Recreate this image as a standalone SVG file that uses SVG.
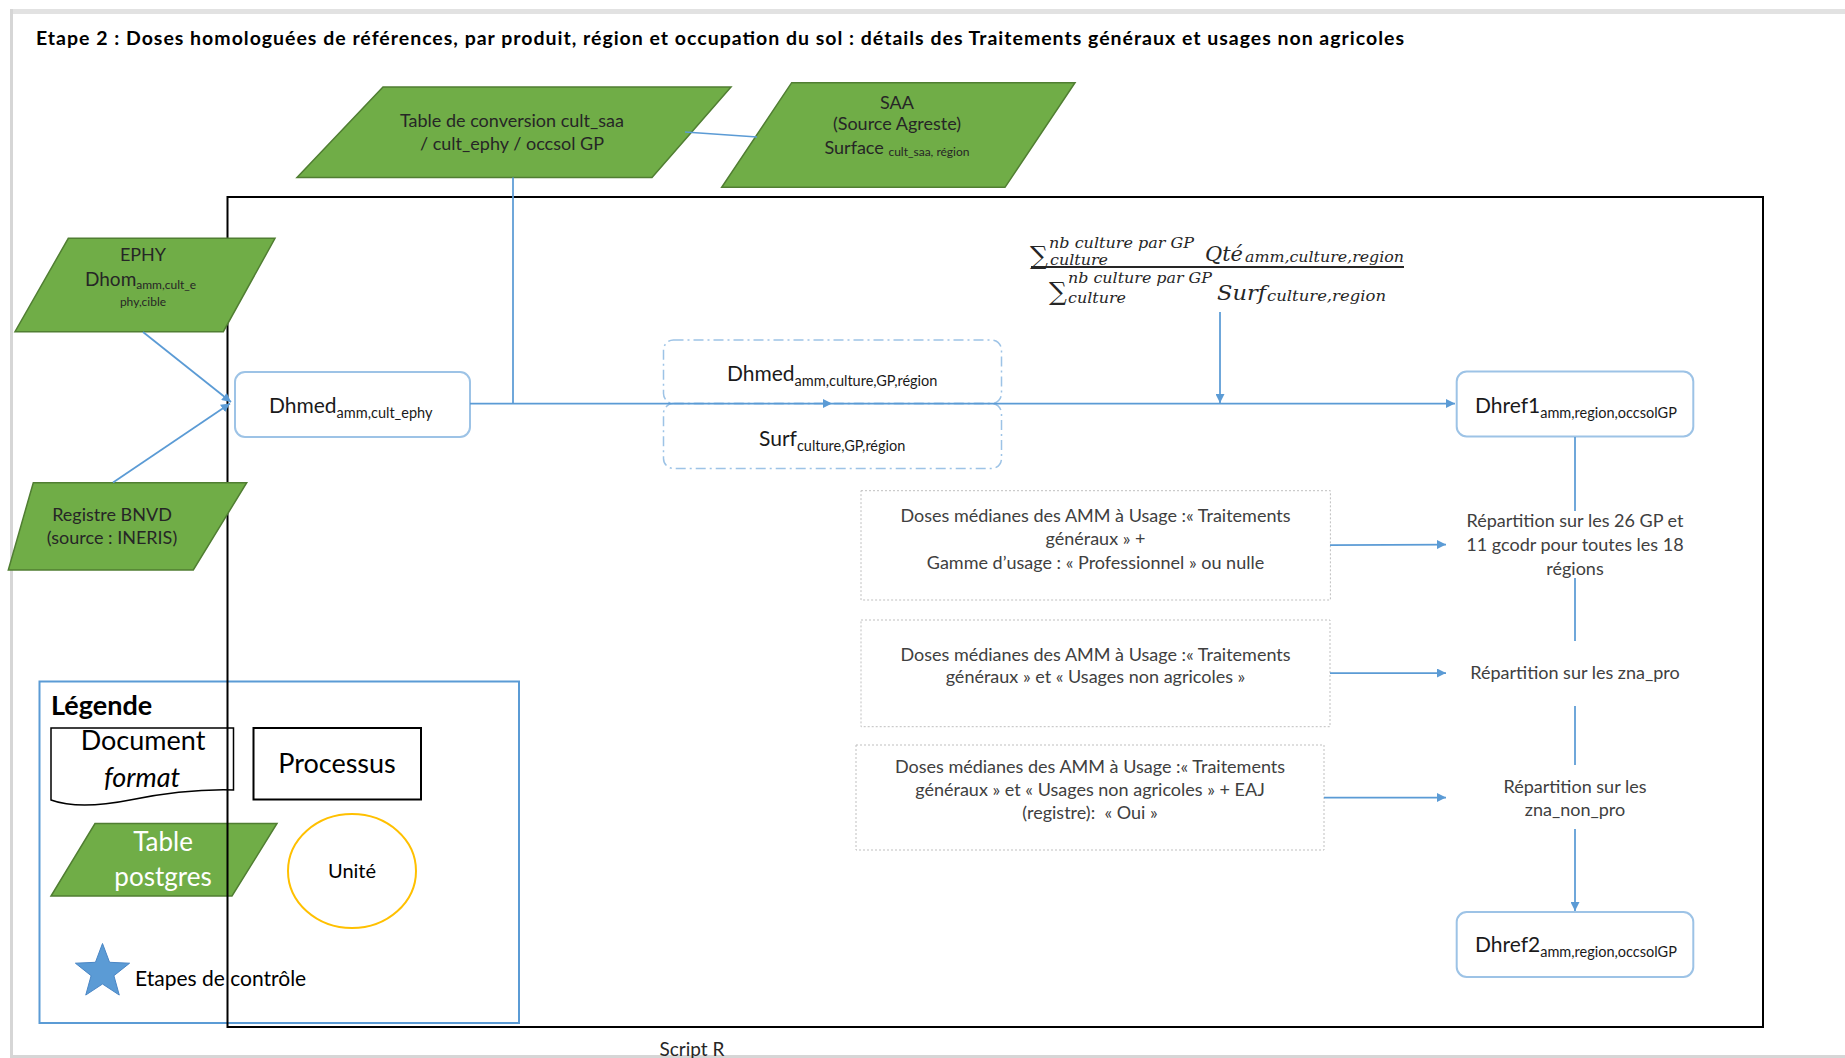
<svg xmlns="http://www.w3.org/2000/svg" width="1845" height="1058" viewBox="0 0 1845 1058">
<defs>
<style>
.t{font-family:Lato,"Liberation Sans",sans-serif}
.body{font-size:18px;fill:#404040;text-anchor:middle}
.green{fill:#70AD47;stroke:#507E32;stroke-width:1.5}
.gt{font-size:18px;fill:#262626;text-anchor:middle}
.proc{fill:#fff;stroke:#9DC3E6;stroke-width:2}
.lbl{font-size:21px;fill:#1a1a1a}
.sub{font-size:14.5px}
.dash{fill:none;stroke:#9DC3E6;stroke-width:1.5;stroke-dasharray:10 4 2 4}
.dot{fill:#fff;stroke:#BFBFBF;stroke-width:1;stroke-dasharray:2 2}
.conn{stroke:#5B9BD5;stroke-width:1.75;fill:none}
.m{font-family:"DejaVu Serif","Liberation Serif",serif;font-style:italic;fill:#262626}
.sig{font-family:"DejaVu Serif","DejaVu Sans",serif;font-size:25px;fill:#262626}
</style>
<marker id="ah" viewBox="0 0 10 10" refX="10" refY="5" markerWidth="9" markerHeight="9" markerUnits="userSpaceOnUse" orient="auto"><path d="M0,0 L10,5 L0,10 z" fill="#5B9BD5"/></marker>
</defs>
<rect width="1845" height="1058" fill="#fff"/>
<g id="frame">
<rect x="10" y="9" width="1835" height="5" fill="#e2e2e2"/>
<rect x="10" y="9" width="3" height="1049" fill="#d6d6d6"/>
<rect x="10" y="1055" width="1835" height="3" fill="#d6d6d6"/>
</g>
<text id="title" class="t" x="36" y="44.5" font-size="19.5" font-weight="bold" fill="#000" textLength="1368" lengthAdjust="spacing">Etape 2 : Doses homologuées de références, par produit, région et occupation du sol : détails des Traitements généraux et usages non agricoles</text>

<g id="legend">
<rect x="39.5" y="681.5" width="479.5" height="341.5" fill="none" stroke="#5B9BD5" stroke-width="2"/>
<text class="t" x="51" y="715" font-size="27" font-weight="bold" fill="#000">Légende</text>
<path d="M51,728 H233.5 V790 C200,789 170,792 130,800 C100,806 70,807 51,800 Z" fill="#fff" stroke="#000" stroke-width="1.5"/>
<text class="t" x="143" y="750" font-size="27" fill="#000" text-anchor="middle">Document</text>
<text class="t" x="142" y="787" font-size="27" font-style="italic" fill="#000" text-anchor="middle">format</text>
<rect x="253.5" y="728" width="167.5" height="71.5" fill="#fff" stroke="#000" stroke-width="2"/>
<text class="t" x="337" y="773" font-size="27" fill="#000" text-anchor="middle">Processus</text>
<polygon points="95,823.5 277,823.5 232,896 51,896" class="green"/>
<text class="t" x="163" y="851" font-size="26" fill="#fff" text-anchor="middle">Table</text>
<text class="t" x="163" y="885.5" font-size="26" fill="#fff" text-anchor="middle">postgres</text>
<ellipse cx="352" cy="871" rx="64" ry="57" fill="none" stroke="#FFC000" stroke-width="2"/>
<text class="t" x="352" y="878" font-size="20" fill="#000" text-anchor="middle">Unité</text>
<polygon points="102.5,943.5 109.55,962.3 129.6,963.2 113.9,975.7 119.25,995.06 102.5,984 85.75,995.06 91.1,975.7 75.4,963.2 95.45,962.3" fill="#5B9BD5" stroke="#4A86C5" stroke-width="1"/>
<text class="t" x="135" y="986" font-size="21" fill="#000">Etapes de contrôle</text>
</g>

<rect id="script-r" x="227.5" y="197" width="1535.5" height="830" fill="none" stroke="#000" stroke-width="2"/>
<text class="t" x="692" y="1056" font-size="19" fill="#262626" text-anchor="middle">Script R</text>

<g id="n-table-conv">
<polygon points="383,87 731,87 652,177.5 297,177.5" class="green"/>
<text class="t gt" x="512" y="127">Table de conversion cult_saa</text>
<text class="t gt" x="512" y="149.5">/ cult_ephy / occsol GP</text>
</g>
<g id="n-saa">
<polygon points="791.7,82.7 1075,82.7 1005,187.3 721.7,187.3" class="green"/>
<text class="t gt" x="897" y="108.5">SAA</text>
<text class="t gt" x="897" y="129.5">(Source Agreste)</text>
<text class="t gt" x="897" y="154">Surface <tspan font-size="12" dy="2">cult_saa, région</tspan></text>
</g>
<g id="n-ephy">
<polygon points="68.3,238.3 275,238.3 223.3,331.7 15,331.7" class="green"/>
<text class="t gt" x="143" y="260.5" font-size="19">EPHY</text>
<text class="t" x="85" y="286" font-size="19" fill="#262626">Dhom<tspan font-size="12" dy="3">amm,cult_e</tspan></text>
<text class="t" x="143" y="306" font-size="12" fill="#262626" text-anchor="middle">phy,cible</text>
</g>
<g id="n-registre">
<polygon points="33.3,482.7 246.7,482.7 193.3,570 8.3,570" class="green"/>
<text class="t gt" x="112" y="521">Registre BNVD</text>
<text class="t gt" x="112" y="543.5">(source : INERIS)</text>
</g>
<g id="n-dhmed1">
<rect x="235" y="372" width="235" height="65" rx="10" class="proc"/>
<text class="t lbl" x="269" y="413">Dhmed<tspan class="sub" dy="5">amm,cult_ephy</tspan></text>
</g>
<g id="n-dhmed2">
<rect x="663.5" y="340" width="338" height="63.5" rx="10" class="dash"/>
<text class="t lbl" x="727" y="381">Dhmed<tspan class="sub" dy="5">amm,culture,GP,région</tspan></text>
</g>
<g id="n-surf">
<rect x="663.5" y="403.5" width="338" height="65" rx="10" class="dash"/>
<text class="t lbl" x="759" y="446">Surf<tspan class="sub" dy="5">culture,GP,région</tspan></text>
</g>
<g id="n-formula">
<text class="sig" x="1030" y="264">∑</text>
<text class="m" x="1049" y="248" font-size="14" textLength="145" lengthAdjust="spacingAndGlyphs">nb culture par GP</text>
<text class="m" x="1050" y="265" font-size="14" textLength="58" lengthAdjust="spacingAndGlyphs">culture</text>
<text class="m" x="1205" y="261" font-size="20" textLength="38" lengthAdjust="spacingAndGlyphs">Qté</text>
<text class="m" x="1245" y="262" font-size="14" textLength="159" lengthAdjust="spacingAndGlyphs">amm,culture,region</text>
<line x1="1031" y1="267" x2="1404" y2="267" stroke="#262626" stroke-width="2"/>
<text class="sig" x="1049" y="300">∑</text>
<text class="m" x="1068" y="283" font-size="14" textLength="144" lengthAdjust="spacingAndGlyphs">nb culture par GP</text>
<text class="m" x="1068" y="303" font-size="14" textLength="58" lengthAdjust="spacingAndGlyphs">culture</text>
<text class="m" x="1217" y="300" font-size="20" textLength="49" lengthAdjust="spacingAndGlyphs">Surf</text>
<text class="m" x="1267" y="301" font-size="15" textLength="119" lengthAdjust="spacingAndGlyphs">culture,region</text>
</g>
<g id="n-dhref1">
<rect x="1456.7" y="371.5" width="236.6" height="65" rx="10" class="proc"/>
<text class="t lbl" x="1475" y="413">Dhref1<tspan class="sub" dy="5">amm,region,occsolGP</tspan></text>
</g>
<g id="n-box1">
<rect x="861" y="490.7" width="469.4" height="109.3" class="dot"/>
<text class="t body" x="1095.5" y="521.5">Doses médianes des AMM à Usage :« Traitements</text>
<text class="t body" x="1095.5" y="545">généraux » +</text>
<text class="t body" x="1095.5" y="568.5">Gamme d’usage : « Professionnel » ou nulle</text>
</g>
<g id="n-box2">
<rect x="861" y="620" width="469" height="106.7" class="dot"/>
<text class="t body" x="1095.5" y="660.5">Doses médianes des AMM à Usage :« Traitements</text>
<text class="t body" x="1095.5" y="682.5">généraux » et « Usages non agricoles »</text>
</g>
<g id="n-box3">
<rect x="856" y="745" width="468" height="105" class="dot"/>
<text class="t body" x="1090" y="772.5">Doses médianes des AMM à Usage :« Traitements</text>
<text class="t body" x="1090" y="795.5">généraux » et « Usages non agricoles » + EAJ</text>
<text class="t body" x="1090" y="819">(registre): &#160;« Oui »</text>
</g>
<g id="n-rep1">
<text class="t body" x="1575" y="527">Répartition sur les 26 GP et</text>
<text class="t body" x="1575" y="550.5">11 gcodr pour toutes les 18</text>
<text class="t body" x="1575" y="575">régions</text>
</g>
<g id="n-rep2">
<text class="t body" x="1575" y="679">Répartition sur les zna_pro</text>
</g>
<g id="n-rep3">
<text class="t body" x="1575" y="793">Répartition sur les</text>
<text class="t body" x="1575" y="816">zna_non_pro</text>
</g>
<g id="n-dhref2">
<rect x="1456.7" y="912" width="236.6" height="65" rx="10" class="proc"/>
<text class="t lbl" x="1475" y="952">Dhref2<tspan class="sub" dy="5">amm,region,occsolGP</tspan></text>
</g>

<g id="connectors" class="conn">
<path d="M143,332 L231,402" marker-end="url(#ah)"/>
<path d="M113,482.5 L230,403.5" marker-end="url(#ah)"/>
<path d="M513,177.5 V403.5"/>
<path d="M685,132 L757,137"/>
<path d="M470,403.5 L832,403.5 L1455,403.5" marker-mid="url(#ah)" marker-end="url(#ah)"/>
<path d="M1220,312 V403" marker-end="url(#ah)"/>
<path d="M1575,437 V511"/>
<path d="M1575,578 V641"/>
<path d="M1575,706 V765"/>
<path d="M1575,829 V911" marker-end="url(#ah)"/>
<path d="M1330,545 L1446,544.5" marker-end="url(#ah)"/>
<path d="M1330,673 H1446" marker-end="url(#ah)"/>
<path d="M1324,797.5 H1446" marker-end="url(#ah)"/>
</g>
</svg>
